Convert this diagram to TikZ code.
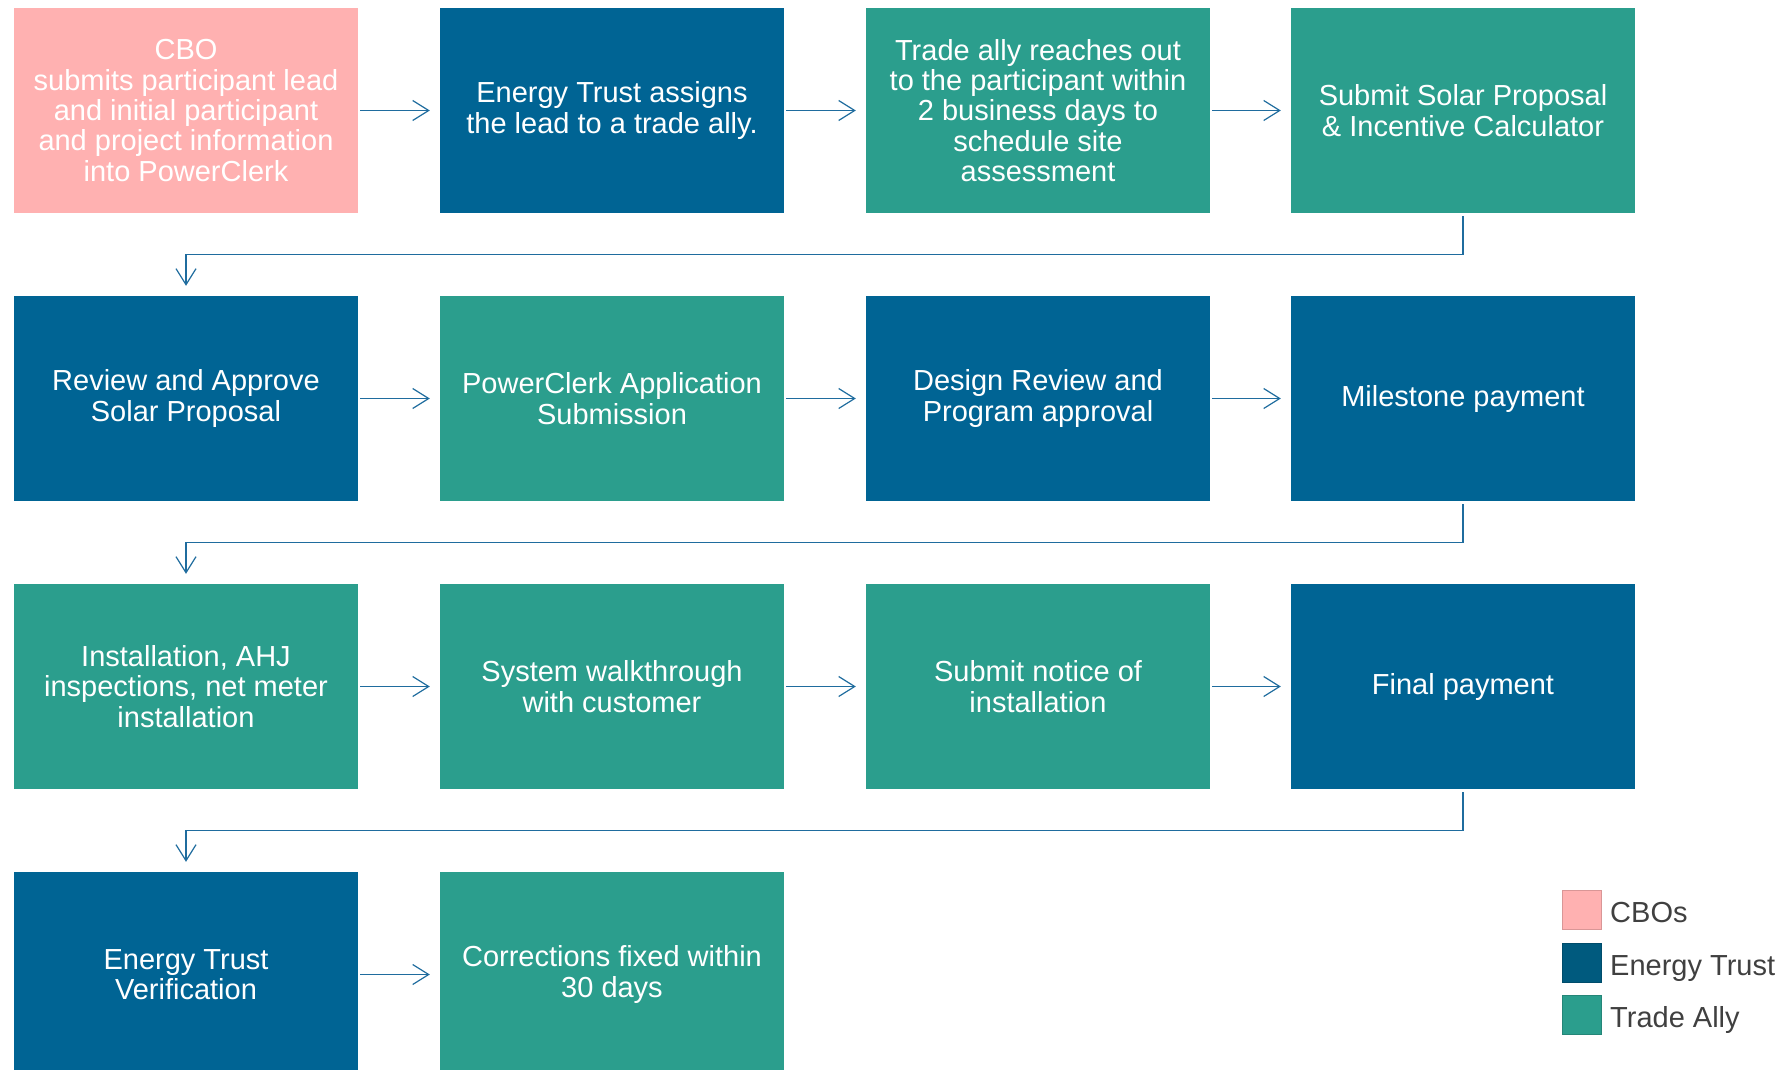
\documentclass[tikz,border=0pt]{standalone}
\usepackage{fontspec}
\setmainfont{Liberation Sans}
\usetikzlibrary{arrows.meta}

\definecolor{cbopink}{HTML}{FFB1B1}
\definecolor{etblue}{HTML}{006494}
\definecolor{legblue}{HTML}{005A7E}
\definecolor{tagreen}{HTML}{2B9E8D}
\definecolor{flowblue}{HTML}{1F6C9E}
\definecolor{legtext}{HTML}{404040}

\begin{document}
\begin{tikzpicture}[x=1pt, y=-1pt,
    stepbox/.style={minimum width=344pt, minimum height=205pt, inner sep=0pt,
        text=white, align=center, font=\fontsize{29}{30.3}\selectfont},
    cbo/.style={stepbox, fill=cbopink},
    et/.style={stepbox, fill=etblue},
    ta/.style={stepbox, fill=tagreen},
    flow/.style={draw=flowblue, line width=1.2pt, -{Straight Barb[length=16pt, width=20pt]}},
    legsq/.style={minimum size=39pt, inner sep=0pt, line width=1pt},
    legtxt/.style={anchor=base west, inner sep=3pt, text=legtext, font=\fontsize{29}{30.3}\selectfont}]
    \useasboundingbox (0,0) rectangle (1791,1070);
    \clip (0,0) rectangle (1791,1070);

    % row 1
    \node[cbo] (s1) at (186,110.5) {CBO\\submits participant lead\\and initial participant\\and project information\\into PowerClerk};
    \node[et] (s2) at (612,110.5) {Energy Trust assigns\\the lead to a trade ally.};
    \node[ta] (s3) at (1038,110.5) {Trade ally reaches out\\to the participant within\\2 business days to\\schedule site\\assessment};
    \node[ta] (s4) at (1463,110.5) {Submit Solar Proposal\\\& Incentive Calculator};
    % row 2
    \node[et] (s5) at (186,398.5) {Review and Approve\\Solar Proposal};
    \node[ta] (s6) at (612,398.5) {PowerClerk Application\\Submission};
    \node[et] (s7) at (1038,398.5) {Design Review and\\Program approval};
    \node[et] (s8) at (1463,398.5) {Milestone payment};
    % row 3
    \node[ta] (s9) at (186,686.5) {Installation, AHJ\\inspections, net meter\\installation};
    \node[ta] (s10) at (612,686.5) {System walkthrough\\with customer};
    \node[ta] (s11) at (1038,686.5) {Submit notice of\\installation};
    \node[et] (s12) at (1463,686.5) {Final payment};
    % row 4
    \node[et] (s13) at (186,974.5) {Energy Trust\\Verification};
    \node[ta] (s14) at (612,974.5) {Corrections fixed within\\30 days};

    \foreach \a/\b in {s1/s2, s2/s3, s3/s4, s5/s6, s6/s7, s7/s8, s9/s10, s10/s11, s11/s12, s13/s14} {
        \draw[flow, shorten <=2pt, shorten >=10pt] (\a) -- (\b);
    }
    \foreach \a/\b in {s4/s5, s8/s9, s12/s13} {
        \draw[flow, shorten <=3pt, shorten >=10pt] (\a.south) -- ++(0,41) -| (\b.north);
    }

    % legend
    \node[legsq, fill=cbopink, draw=cbopink!85!black] (lcbo) at (1581.5,909.5) {};
    \node[legsq, fill=legblue, draw=legblue!85!black] (let) at (1581.5,962.5) {};
    \node[legsq, fill=tagreen, draw=tagreen!85!black] (lta) at (1581.5,1014.5) {};
    \node[legtxt] (tcbo) at (1607,922.5) {CBOs};
    \node[legtxt] (tet) at (1607,975.5) {Energy Trust};
    \node[legtxt] (tta) at (1607,1027.5) {Trade Ally};
\end{tikzpicture}
\end{document}
